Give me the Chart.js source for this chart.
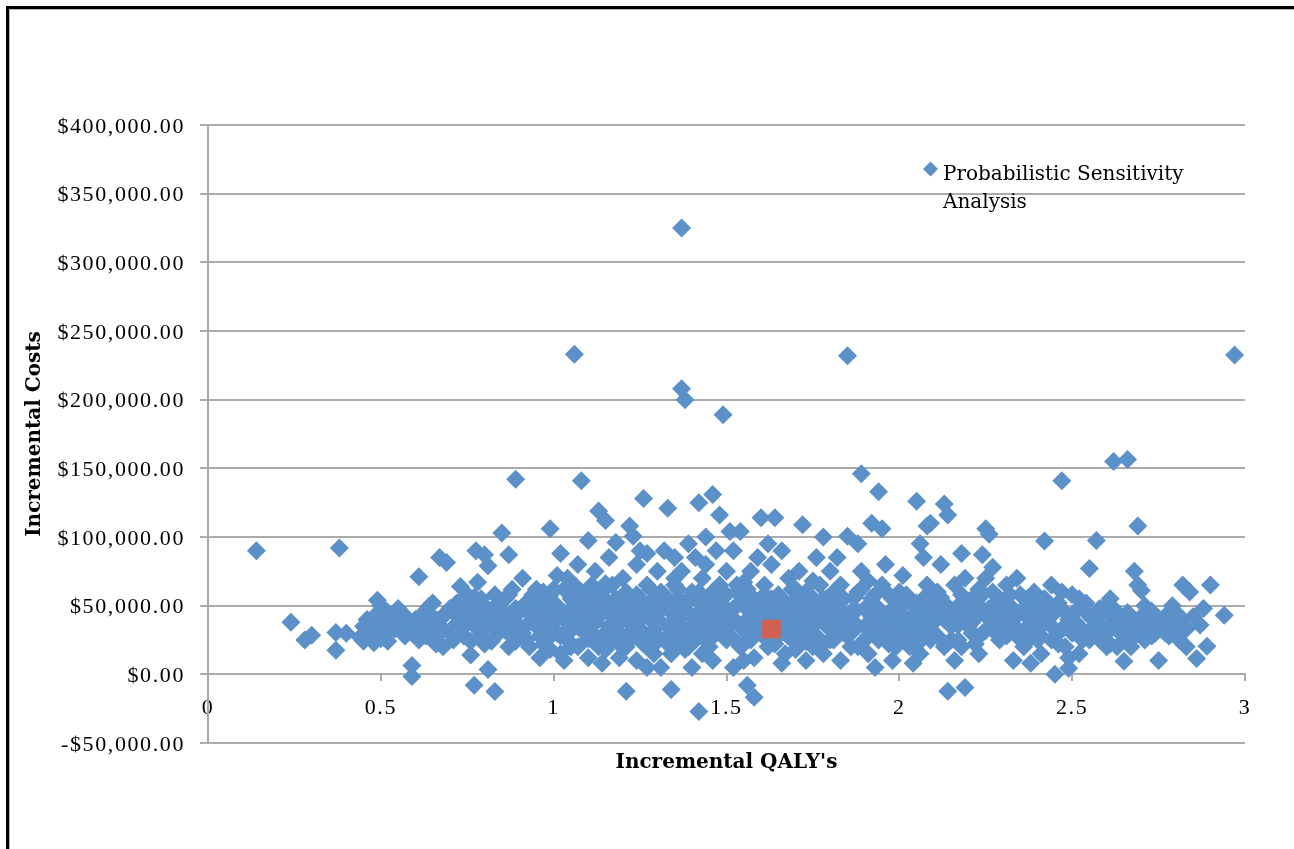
<!DOCTYPE html>
<html>
<head>
<meta charset="utf-8">
<title>Incremental cost-effectiveness plane</title>
<script src="https://cdn.jsdelivr.net/npm/chart.js@4/dist/chart.umd.min.js"></script>
<style>
  html, body { margin: 0; padding: 0; background: #fff; overflow: hidden; }
  #wrap { position: relative; width: 1294px; height: 849px; }
  #psa { position: absolute; left: 0; top: 0; }
  /* chart-area frame: only its top and left edges fall inside the page */
  #frame {
    position: absolute; left: 6px; top: 6px; width: 1400px; height: 1000px;
    border: 3px solid #000; box-shadow: inset 1px 1px 0 #b4b4b4; pointer-events: none;
  }
</style>
</head>
<body>
<div id="wrap">
  <canvas id="psa" width="1294" height="849"></canvas>
  <div id="frame"></div>
</div>
<script>
// Probabilistic sensitivity analysis: one point per simulation run
const seriesLabel = 'Probabilistic Sensitivity Analysis';

const qaly = [
  0.14,0.24,0.28,0.30,0.37,0.38,0.37,0.40,0.44,0.45,
  0.46,0.47,0.48,0.49,0.50,0.50,0.51,0.52,0.46,0.53,
  0.55,0.57,0.56,0.58,0.59,0.59,0.60,0.61,0.61,0.63,
  0.64,0.62,0.66,0.67,0.69,0.68,0.65,0.69,0.70,0.66,
  0.73,0.75,0.72,0.74,0.76,0.77,0.775,0.80,0.78,0.79,
  0.76,0.78,0.80,0.71,0.81,0.81,0.83,0.85,0.87,0.89,
  0.82,0.84,0.86,0.88,0.85,0.87,0.89,0.83,0.88,0.74,

  0.91,0.93,0.95,0.96,0.97,0.98,0.99,0.92,0.94,0.96,
  0.99,1.00,0.93,0.98,1.02,1.04,1.06,1.08,1.05,1.03,
  1.01,1.07,1.09,1.02,1.06,1.08,1.10,1.04,1.09,1.00,
  1.07,1.05,1.13,1.15,1.18,1.12,1.14,1.16,1.11,1.17,
  1.19,1.13,1.15,1.20,1.12,1.18,1.20,1.16,1.11,1.19,
  0.95,1.01,1.03,1.10,1.14,1.17,1.12,1.06,0.97,1.10,

  1.21,1.22,1.23,1.26,1.25,1.24,1.27,1.22,1.25,1.28,
  1.21,1.24,1.29,1.26,1.23,1.30,1.28,1.27,1.29,1.30,
  1.33,1.32,1.34,1.37,1.37,1.38,1.35,1.31,1.33,1.36,
  1.32,1.34,1.38,1.36,1.39,1.31,1.35,1.39,1.40,1.33,
  1.42,1.42,1.44,1.41,1.43,1.45,1.42,1.44,1.46,1.48,
  1.47,1.49,1.41,1.43,1.46,1.48,1.45,1.47,1.50,1.49,
  1.40,1.46,1.50,1.41,1.48,1.44,1.27,1.37,1.43,1.39,

  1.51,1.54,1.52,1.53,1.55,1.51,1.54,1.56,1.58,1.57,
  1.56,1.58,1.60,1.59,1.60,1.52,1.55,1.57,1.59,1.53,
  1.64,1.62,1.63,1.61,1.65,1.62,1.64,1.66,1.67,1.68,
  1.66,1.69,1.70,1.61,1.67,1.72,1.71,1.73,1.74,1.72,
  1.75,1.76,1.78,1.77,1.79,1.76,1.78,1.80,1.73,1.80,
  1.63,1.69,1.75,1.71,1.79,1.65,1.70,1.52,1.58,1.77,

  1.85,1.89,1.85,1.88,1.94,1.95,1.92,1.82,1.83,1.81,
  1.84,1.86,1.87,1.83,1.88,1.89,1.90,1.91,1.92,1.93,
  1.94,1.95,1.96,1.97,1.98,1.99,2.00,2.01,2.02,2.03,
  2.05,2.06,2.07,2.04,2.05,2.08,2.09,2.08,2.06,2.10,
  2.09,1.97,1.91,1.86,1.99,2.03,1.81,2.07,1.93,2.04,

  2.13,2.14,2.12,2.11,2.13,2.15,2.14,2.19,2.16,2.17,
  2.18,2.19,2.20,2.18,2.21,2.22,2.23,2.24,2.25,2.26,
  2.25,2.27,2.24,2.28,2.29,2.30,2.31,2.32,2.33,2.34,
  2.35,2.36,2.37,2.38,2.39,2.40,2.42,2.41,2.43,2.44,
  2.45,2.46,2.47,2.48,2.49,2.49,2.47,2.44,2.27,2.21,
  2.16,2.36,2.40,2.32,2.12,2.29,2.38,2.46,2.34,2.23,

  2.51,2.52,2.53,2.54,2.55,2.56,2.57,2.58,2.55,2.60,
  2.61,2.62,2.63,2.64,2.65,2.66,2.67,2.68,2.69,2.70,
  2.69,2.71,2.72,2.73,2.74,2.75,2.76,2.77,2.78,2.79,
  2.80,2.82,2.84,2.83,2.86,2.89,2.90,2.94,2.97,2.58,
  2.52,2.60,2.67,2.74,2.81,2.88,2.63,2.71,2.57,2.53,

  0.96,0.99,1.02,1.04,1.07,1.09,1.11,1.13,1.14,1.16,
  1.18,1.21,1.22,1.24,1.25,1.27,1.29,1.30,1.31,1.33,
  1.35,1.36,1.38,1.40,1.41,1.43,1.45,1.47,1.49,1.50,
  1.52,1.53,1.55,1.56,1.58,1.60,1.61,1.62,1.64,1.65,
  1.67,1.68,1.70,1.71,1.73,1.74,1.76,1.77,1.78,1.80,
  1.81,1.82,1.84,1.85,1.87,1.88,1.90,1.91,1.93,1.94,
  1.96,1.97,1.99,2.00,2.01,2.02,2.04,2.06,2.07,2.09,
  2.10,2.11,2.13,2.15,2.17,2.18,2.20,2.22,2.23,2.26,
  2.28,2.30,2.31,2.33,2.35,2.37,2.39,2.41,2.43,2.45,
  1.57,1.66,1.75,1.84,1.92,1.46,1.37,1.28,1.19,1.10,

  0.45,0.47,0.48,0.50,0.52,0.53,0.54,0.56,0.57,0.58,
  0.60,0.62,0.63,0.64,0.65,0.67,0.68,0.70,0.71,0.72,
  0.73,0.74,0.75,0.76,0.77,0.78,0.79,0.80,0.81,0.82,
  0.83,0.84,0.85,0.86,0.87,0.88,0.89,0.90,0.79,0.68,

  0.90,0.91,0.92,0.93,0.94,0.95,0.96,0.97,0.98,0.99,
  1.00,1.01,1.02,1.03,1.04,1.05,1.06,1.07,1.08,1.09,
  1.10,1.11,1.12,1.13,1.14,1.15,1.16,1.17,1.18,1.19,
  1.20,1.21,1.22,1.23,1.24,1.25,1.26,1.27,1.28,1.29,
  1.30,1.31,1.32,1.33,1.34,1.35,1.36,1.37,1.38,1.39,
  1.40,1.41,1.42,1.43,1.44,1.45,1.46,1.47,1.48,1.49,
  1.50,1.51,1.52,1.53,1.54,1.55,1.56,1.57,1.58,1.59,
  1.60,1.61,1.62,1.63,1.64,1.65,1.66,1.67,1.68,1.69,
  1.70,1.71,1.72,1.73,1.74,1.75,1.76,1.77,1.78,1.79,
  1.80,1.81,1.82,1.83,1.84,1.85,1.86,1.87,1.88,1.89,
  1.90,1.91,1.92,1.93,1.94,1.95,1.96,1.97,1.98,1.99,
  2.00,2.01,2.02,2.03,2.04,2.05,2.06,2.07,2.08,2.09,
  2.10,2.11,2.12,2.13,2.14,2.15,2.16,2.17,2.18,2.19,
  2.20,2.21,2.22,2.23,2.24,2.25,2.26,2.27,2.28,2.29,
  2.30,2.31,2.32,2.33,2.34,2.35,2.36,2.37,2.38,2.39,
  1.05,1.25,1.45,1.65,1.85,2.05,1.15,1.35,1.55,1.75,

  2.40,2.41,2.42,2.43,2.44,2.45,2.46,2.47,2.48,2.49,
  2.50,2.51,2.52,2.53,2.54,2.55,2.56,2.57,2.58,2.59,
  2.60,2.61,2.62,2.63,2.64,2.65,2.66,2.67,2.68,2.69,
  2.70,2.71,2.72,2.73,2.74,2.75,2.76,2.77,2.78,2.79,
  2.80,2.81,2.82,2.83,2.85,2.87,2.42,2.50,2.61,2.77
];

const incrementalCost = [
  90000,38000,25000,28500,17500,92000,30500,30000,27000,24000,
  40000,33000,23000,54000,50000,26000,30000,45000,29000,33000,
  48000,42000,37000,40000,6500,-1500,30000,25000,71000,46000,
  49500,33000,40000,85000,81500,20000,25000,45000,30000,22000,
  64000,58000,37000,28000,14000,-8000,90000,87000,67000,40000,
  50000,33000,22000,45000,79000,3600,-12500,103000,87000,142000,
  45000,30000,55000,62000,37000,20000,48000,58000,28000,40000,

  70000,48000,35000,12000,60000,42000,106000,25000,58000,28000,
  18000,50000,38000,30000,88000,70000,233000,141000,55000,40000,
  30000,20000,45000,15000,35000,60000,97500,25000,30000,62000,
  80000,45000,119000,112000,96000,75000,60000,45000,35000,25000,
  12000,20000,30000,70000,50000,40000,55000,85000,65000,30000,
  52000,72000,10000,12000,8000,65000,28000,65000,22000,40000,

  -12400,108000,100500,128000,90000,80000,65000,50000,40000,30000,
  20000,10000,55000,22000,35000,75000,45000,88000,15000,35000,
  121000,90000,-11000,325000,208000,200000,70000,60000,50000,40000,
  25000,15000,30000,55000,95000,5000,85000,20000,60000,35000,
  -27000,125000,100000,85000,70000,55000,45000,35000,131000,116000,
  90000,189000,25000,15000,60000,40000,20000,30000,75000,50000,
  5000,10000,25000,38000,65000,80000,5000,75000,50000,45000,

  104000,104000,90000,65000,50000,35000,20000,-8000,-16700,75000,
  40000,55000,114000,85000,30000,5000,10000,25000,45000,60000,
  114000,95000,80000,65000,50000,20000,35000,8000,40000,70000,
  90000,25000,55000,45000,15000,109000,75000,60000,45000,30000,
  20000,85000,100000,65000,35000,50000,15000,75000,10000,45000,
  55000,62000,35000,40000,55000,28000,18000,48000,12000,25000,

  232000,146000,100500,95000,133000,106000,110000,85000,65000,50000,
  30000,20000,45000,10000,60000,75000,35000,15000,55000,40000,
  25000,65000,80000,45000,10000,30000,60000,72000,40000,20000,
  126000,95000,85000,50000,30000,108000,110000,65000,15000,45000,
  25000,58000,68000,38000,50000,35000,25000,55000,5000,8000,

  124000,116000,80000,60000,40000,25000,-12400,-9500,10000,50000,
  88000,70000,35000,20000,55000,45000,15000,87000,106000,102000,
  70000,60000,30000,40000,25000,50000,65000,35000,10000,70000,
  45000,20000,55000,30000,60000,40000,97000,15000,50000,65000,
  0,30000,141000,45000,4400,12000,60000,35000,78000,30000,
  65000,48000,25000,58000,50000,45000,8000,22000,28000,62000,

  38000,55000,30000,45000,77000,40000,97500,48000,25000,20000,
  35000,155000,42000,30000,9500,156500,35000,75000,65000,61000,
  108000,30000,40000,28000,35000,10000,40000,30000,45000,50000,
  35000,65000,60000,20000,11600,20400,65000,43000,232500,25000,
  15000,45000,25000,42000,30000,48000,20000,50000,40000,50000,

  40000,52000,45000,33000,50000,38000,55000,42000,28000,52000,
  33000,44000,30000,58000,26000,48000,38000,24000,47000,28000,
  40000,22000,52000,33000,55000,27000,43000,52000,30000,40000,
  26000,38000,58000,30000,42000,50000,27000,38000,46000,58000,
  32000,48000,38000,26000,50000,35000,28000,45000,55000,25000,
  40000,52000,44000,28000,56000,35000,48000,28000,50000,38000,
  30000,22000,42000,35000,52000,26000,40000,46000,32000,50000,
  38000,28000,52000,42000,36000,48000,42000,28000,50000,40000,
  52000,33000,45000,40000,30000,42000,48000,35000,42000,48000,
  35000,42000,45000,36000,42000,38000,35000,40000,47000,48000,

  35000,28000,42000,38000,24000,40000,33000,45000,28000,35000,
  40000,44000,28000,36000,52000,30000,42000,48000,25000,52000,
  32000,45000,38000,24000,56000,42000,28000,50000,36000,24000,
  40000,52000,46000,32000,58000,40000,24000,35000,55000,33000,

  45000,30000,52000,20000,42000,62000,35000,48000,25000,58000,
  38000,50000,28000,62000,44000,20000,52000,35000,42000,58000,
  26000,45000,38000,60000,50000,18000,35000,48000,55000,22000,
  40000,60000,25000,48000,35000,55000,42000,20000,62000,30000,
  50000,38000,58000,22000,45000,30000,62000,48000,18000,55000,
  42000,30000,60000,36000,50000,25000,46000,62000,32000,40000,
  58000,28000,40000,50000,35000,22000,62000,45000,30000,52000,
  40000,58000,28000,48000,22000,40000,55000,30000,45000,36000,
  62000,44000,50000,24000,58000,30000,40000,52000,22000,46000,
  35000,60000,28000,45000,55000,40000,30000,48000,20000,62000,
  25000,45000,36000,58000,48000,30000,40000,35000,55000,20000,
  46000,28000,58000,40000,32000,52000,24000,45000,38000,60000,
  30000,42000,56000,20000,48000,35000,44000,25000,58000,40000,
  52000,38000,22000,44000,58000,32000,48000,40000,30000,55000,
  42000,28000,50000,36000,45000,58000,32000,24000,40000,52000,
  32000,33000,28000,33000,32000,36000,66000,65000,67000,68000,

  48000,28000,55000,38000,25000,45000,52000,33000,20000,40000,
  30000,46000,35000,25000,52000,32000,42000,28000,36000,48000,
  30000,22000,48000,36000,40000,28000,45000,20000,38000,30000,
  42000,25000,35000,46000,30000,38000,33000,42000,28000,38000,
  45000,25000,40000,33000,42000,36000,40000,58000,55000,36000
];

// Mean of the simulations (base case)
const meanQaly = [1.63];
const meanCost = [33000];

// Axis ranges and tick steps
const qalyRange = [0, 3];
const qalyStep = 0.5;
const costRange = [-50000, 400000];
const costStep = 50000;

const BLUE = 'rgb(91,144,200)';
const RED = 'rgb(209,97,82)';
const GRID = '#ababab';
const tickFont = { family: '"Liberation Serif", serif', size: 22 };
const titleFont = { family: '"DejaVu Serif", serif', size: 20, weight: 'bold' };

function money(v) {
  const s = Math.abs(v).toLocaleString('en-US', { minimumFractionDigits: 2, maximumFractionDigits: 2 });
  return (v < 0 ? '-$' : '$') + s;
}

const psaPoints = qaly.map((q, i) => ({ x: q, y: incrementalCost[i] }));
const meanPoints = meanQaly.map((q, i) => ({ x: q, y: meanCost[i] }));

// Tick labels are set a little looser than the default tracking
const tickTracking = {
  id: 'tickTracking',
  beforeDraw(chart) {
    ['x', 'y'].forEach(id => {
      const scale = chart.scales[id];
      if (!scale || scale._tracked) return;
      const draw = scale.drawLabels.bind(scale);
      scale.drawLabels = (area) => {
        const ctx = chart.ctx;
        ctx.save();
        ctx.letterSpacing = '1.6px';
        draw(area);
        ctx.restore();
      };
      scale._tracked = true;
    });
  }
};

// Legend drawn inside the plot, wrapped over two lines
const insetLegend = {
  id: 'insetLegend',
  afterDraw(chart) {
    const ds = chart.data.datasets[1];
    const { ctx, chartArea } = chart;
    const mx = chartArea.right - 314.5;
    const my = chartArea.top + 44;
    const r = 7.5;
    ctx.save();
    ctx.fillStyle = ds.backgroundColor;
    ctx.beginPath();
    ctx.moveTo(mx - r, my);
    ctx.lineTo(mx, my - r);
    ctx.lineTo(mx + r, my);
    ctx.lineTo(mx, my + r);
    ctx.closePath();
    ctx.fill();

    ctx.font = '20px "DejaVu Serif", serif';
    ctx.fillStyle = '#000';
    ctx.textBaseline = 'alphabetic';
    const words = ds.label.split(' ');
    const lines = [];
    let line = '';
    for (const w of words) {
      const t = line ? line + ' ' + w : w;
      if (line && ctx.measureText(t).width > 260) { lines.push(line); line = w; }
      else line = t;
    }
    lines.push(line);
    lines.forEach((l, i) => ctx.fillText(l, chartArea.right - 302, chartArea.top + 55 + i * 28));
    ctx.restore();
  }
};

new Chart(document.getElementById('psa'), {
  type: 'scatter',
  data: {
    datasets: [
      {
        label: 'Mean',
        data: meanPoints,
        pointStyle: 'rect',
        pointRadius: 13.2,
        pointHoverRadius: 13.2,
        backgroundColor: RED,
        borderWidth: 0,
        order: 0
      },
      {
        label: seriesLabel,
        data: psaPoints,
        pointStyle: 'rectRot',
        pointRadius: 9.5,
        pointHoverRadius: 9.5,
        backgroundColor: BLUE,
        borderWidth: 0,
        order: 1
      }
    ]
  },
  options: {
    responsive: false,
    animation: false,
    events: [],
    layout: { padding: { top: 125, right: 49, bottom: 0, left: 0 } },
    plugins: { legend: { display: false }, tooltip: { enabled: false } },
    scales: {
      x: {
        type: 'linear',
        position: { y: 0 },
        min: qalyRange[0],
        max: qalyRange[1],
        ticks: { stepSize: qalyStep, padding: 15, font: tickFont, color: '#000', maxRotation: 0, callback: v => String(v) },
        grid: { drawOnChartArea: false, drawTicks: true, tickLength: 6, color: GRID, lineWidth: 2 },
        border: { color: GRID, width: 2 }
      },
      xTitle: {
        type: 'linear',
        position: 'bottom',
        min: qalyRange[0],
        max: qalyRange[1],
        ticks: { display: false },
        grid: { display: false, drawTicks: false },
        border: { display: false },
        title: { display: true, text: "Incremental QALY's", font: titleFont, color: '#000', padding: { top: 0, bottom: 74 } },
        afterFit: s => { s.height = 106; }
      },
      y: {
        type: 'linear',
        position: 'left',
        min: costRange[0],
        max: costRange[1],
        ticks: { stepSize: costStep, padding: 15, labelOffset: 2, font: tickFont, color: '#000', callback: money },
        grid: { color: GRID, lineWidth: 2, tickLength: 8 },
        border: { color: GRID, width: 2 },
        title: { display: true, text: 'Incremental Costs', font: titleFont, color: '#000', padding: { top: 23, bottom: 0 } },
        afterFit: s => { s.width = 208; }
      }
    }
  },
  plugins: [tickTracking, insetLegend]
});
</script>
</body>
</html>
